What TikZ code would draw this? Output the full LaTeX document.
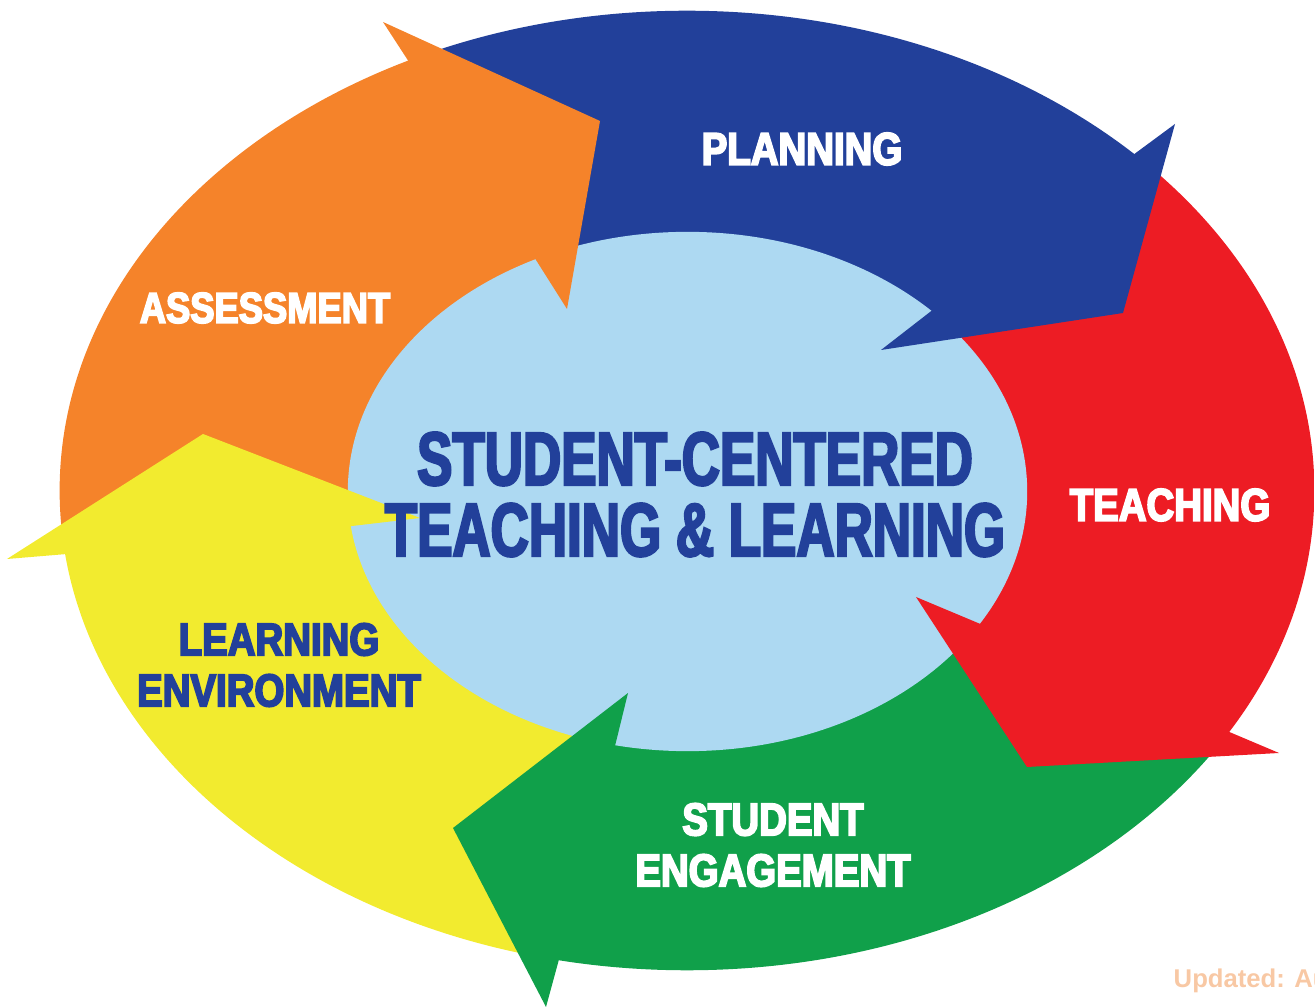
\documentclass[tikz,border=0pt]{standalone}
\usepackage{fontspec}
\usepackage{tikz}
\newfontfamily\labelFont[UprightFont={* Bold},FakeStretch=0.84,FakeBold=4]{Liberation Sans}
\newfontfamily\centreFont[UprightFont={* Bold},FakeStretch=0.7,FakeBold=3]{Liberation Sans}
\newfontfamily\noteFont[UprightFont={* Bold}]{Liberation Sans}
\definecolor{assOrange}{HTML}{F5832A}
\definecolor{planBlue}{HTML}{22409A}
\definecolor{teachRed}{HTML}{ED1C24}
\definecolor{engGreen}{HTML}{10A04A}
\definecolor{envYellow}{HTML}{F2EB2F}
\definecolor{centreBlue}{HTML}{ADD9F2}
\definecolor{noteOrange}{HTML}{F8C8A4}

\begin{document}
\begin{tikzpicture}[x=0.01cm, y=-0.01cm,
	labelText/.style={font=\labelFont\fontsize{13pt}{14.5pt}\selectfont, text=white, align=center, inner sep=0pt},
	centreText/.style={font=\centreFont\fontsize{21.5pt}{20.2pt}\selectfont, text=planBlue, align=center, inner sep=0pt},
	noteText/.style={font=\noteFont\fontsize{7.3pt}{8pt}\selectfont, text=noteOrange, inner sep=0pt}]
	\useasboundingbox (0,0) rectangle (1315,1007);

	% ring pieces, cut to the outer ellipse
	\begin{scope}
		\clip (687,490.5) ellipse [x radius=6.27cm, y radius=4.795cm];
		\fill[assOrange] (687,490) -- (426,513) -- (-332,588) -- (238,-217) -- (575,310) -- cycle;
		\fill[planBlue] (687,490) -- (575,310) -- (238,-217) -- (1422,-61) -- (882,357) -- cycle;
		\fill[teachRed] (687,490) -- (882,357) -- (1422,-61) -- (1572,887) -- (910,599) -- cycle;
		\fill[engGreen] (687,490) -- (910,599) -- (1572,887) -- (472,1266) -- (623,688) -- cycle;
		\fill[envYellow] (687,490) -- (623,688) -- (472,1266) -- (-332,588) -- (426,513) -- cycle;
	\end{scope}

	\fill[centreBlue] (687.5,491.5) ellipse [x radius=3.395cm, y radius=2.595cm];

	% arrow heads
	\fill[assOrange] (409,62) -- (383,22) -- (600,121) -- (567,309) -- (536,260) -- cycle;
	\fill[planBlue] (1133,155) -- (1175,124) -- (1123,313) -- (881,350) -- (930,312) -- cycle;
	\fill[teachRed] (1227,731) -- (1279,753) -- (1027,767) -- (916,597) -- (978,623) -- cycle;
	\fill[engGreen] (558,963) -- (546,1007) -- (453,828) -- (628,693) -- (615,746) -- cycle;
	\fill[envYellow] (67,554) -- (7,559) -- (203,434) -- (420,518) -- (352,526) -- cycle;

	\node[labelText](planLabel) at (802,149){PLANNING};
	\node[labelText](teachLabel) at (1170,505){TEACHING};
	\node[labelText](engLabel) at (773,845){STUDENT\\ENGAGEMENT};
	\node[labelText, text=planBlue](envLabel) at (279,665){LEARNING\\ENVIRONMENT};
	\node[labelText, font=\labelFont\fontsize{12.3pt}{14pt}\selectfont](assLabel) at (265,308){ASSESSMENT};
	\node[centreText](centreLabel) at (695,494.5){STUDENT-CENTERED\\TEACHING \& LEARNING};
	\node[noteText, anchor=base west](noteLabel) at (1173,988){Updated: Au};
\end{tikzpicture}
\end{document}
